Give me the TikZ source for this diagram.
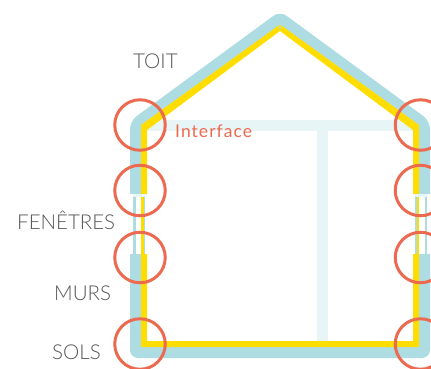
\documentclass[tikz,border=0pt]{standalone}
\usepackage{fontspec}
\setmainfont{Lato}[UprightFont=* Light]
\newfontfamily\labelfont{Lato}[LetterSpace=6]
\definecolor{wallblue}{HTML}{AEDCE3}
\definecolor{palewall}{HTML}{E8F5F7}
\definecolor{sealyellow}{HTML}{FFDD00}
\definecolor{jointred}{HTML}{EC6A50}
\definecolor{labelgrey}{HTML}{555555}
\tikzset{
  joint/.style={draw=jointred, line width=3pt, circle, minimum size=50.5pt, inner sep=0pt},
  partname/.style={anchor=base west, inner sep=0pt, text=labelgrey, font=\fontsize{20.5}{20.5}\selectfont},
}
\begin{document}
\begin{tikzpicture}[x=1pt, y=-1pt]
\useasboundingbox (0,0) rectangle (431,368);
% inner walls
\fill[palewall] (147,120) rectangle (413,131);
\fill[palewall] (317,131) rectangle (328,341);
% envelope
\fill[wallblue, even odd rule] [rounded corners=8pt] (130,358) -- (130,121) -- (280,11) -- (430,121) -- (430,358) -- cycle
  [sharp corners] (141,347) -- (141,125) -- (280,25) -- (419,125) -- (419,347) -- cycle;
\fill[sealyellow, even odd rule] (141,347) -- (141,125) -- (280,24.5) -- (419,125) -- (419,347) -- cycle
  (147,341) -- (147,130) -- (280,31) -- (413,130) -- (413,341) -- cycle;
\fill[wallblue] (279.2,24) -- (280.8,24) -- (280.4,30) -- (279.6,30) -- cycle;
% windows
\foreach \x/\s in {0/1,560/-1} {
\fill[white] (\x+\s*128,194) rectangle (\x+\s*148,254);
\fill[palewall] (\x+\s*133,194) rectangle (\x+\s*145,197);
\fill[wallblue] (\x+\s*133,197) rectangle (\x+\s*135.5,254);
\fill[wallblue] (\x+\s*143,197) rectangle (\x+\s*145,254);
\fill[sealyellow] (\x+\s*141,197) rectangle (\x+\s*143.5,254);
}
% joints
\foreach \y/\n in {125/roof,190.5/high,257.5/low,344/floor} {
\node[joint] (left\n) at (140,\y) {};
\node[joint] (right\n) at (420.5,\y) {};
}
% labels
\node[partname] (toit) at (133,68) {TOIT};
\node[partname] (fenetres) at (17,229) {FENÊTRES};
\node[partname] (murs) at (54,300) {MURS};
\node[partname] (sols) at (52,359) {SOLS};
\node[anchor=base west, inner sep=0pt, text=jointred, font=\labelfont\fontsize{17.5}{17.5}\selectfont] (interface) at (175,137.5) {Interface};
\end{tikzpicture}
\end{document}
